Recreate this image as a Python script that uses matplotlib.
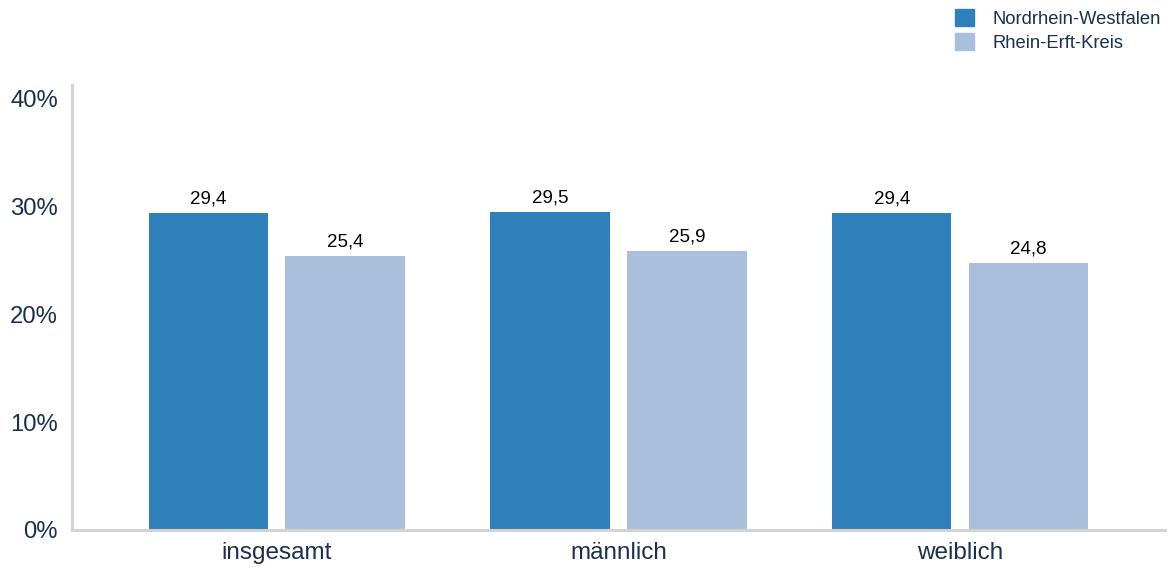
import matplotlib
matplotlib.use("Agg")
import matplotlib.pyplot as plt
import numpy as np
from matplotlib.patches import Patch

plt.rcParams["font.family"] = ["Liberation Sans", "DejaVu Sans"]

categories = ["insgesamt", "männlich", "weiblich"]
series_names = ["Nordrhein-Westfalen", "Rhein-Erft-Kreis"]
nrw = [29.4, 29.5, 29.4]
rek = [25.4, 25.9, 24.8]
colors = ["#2e7fba", "#a9bfdc"]
navy = "#1b2f4e"

fig = plt.figure(figsize=(11.7, 5.67), dpi=100)
ax = fig.add_axes([0.0615, 0.0653, 0.9342, 0.785])

x = np.arange(len(categories))
w = 0.35
for vals, off, col in [(nrw, -0.2, colors[0]), (rek, 0.2, colors[1])]:
    bars = ax.bar(x + off, vals, w, color=col)
    for b, v in zip(bars, vals):
        ax.annotate(f"{v:.1f}".replace(".", ","),
                    (b.get_x() + b.get_width() / 2, b.get_height()),
                    xytext=(0, 4), textcoords="offset points",
                    ha="center", va="bottom", fontsize=13.5, color="black")

ax.set_xlim(-0.6, 2.6)
ax.set_ylim(0, 41.3)
ax.set_yticks([0, 10, 20, 30, 40])
ax.set_yticklabels([f"{t}%" for t in [0, 10, 20, 30, 40]])
ax.set_xticks(x)
ax.set_xticklabels(categories)
ax.tick_params(axis="y", length=0, pad=10, labelsize=17.2, labelcolor=navy)
ax.tick_params(axis="x", length=0, pad=9, labelsize=17.5, labelcolor=navy)

for s in ["top", "right"]:
    ax.spines[s].set_visible(False)
for s in ["left", "bottom"]:
    ax.spines[s].set_color("#d3d3d3")
    ax.spines[s].set_linewidth(2.2)

handles = [Patch(color=c, label=n) for c, n in zip(colors, series_names)]
fig.legend(handles=handles, loc="upper right", bbox_to_anchor=(1.0, 1.0),
           frameon=False, fontsize=13.2, labelcolor=navy,
           handlelength=1.05, handleheight=1.05, handletextpad=1.0,
           labelspacing=0.28, borderpad=0.4, borderaxespad=0.1)

fig.savefig("out.png", dpi=100)
